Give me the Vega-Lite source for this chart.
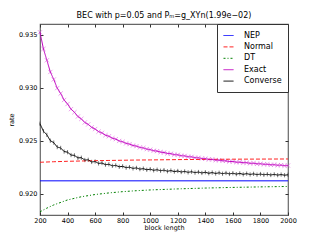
{
  "$schema": "https://vega.github.io/schema/vega-lite/v6.json",
  "width": 248,
  "height": 191,
  "autosize": "none",
  "padding": {"left": 40, "top": 24, "right": 32, "bottom": 25},
  "background": "white",
  "config": {
    "font": "DejaVu Sans",
    "view": {"stroke": "#666", "strokeWidth": 1.2},
    "axis": {
      "domain": false, "grid": false, "tickSize": -3, "tickColor": "#333", "tickWidth": 1,
      "labelFontSize": 6.5, "titleFontSize": 6.5, "titleFontWeight": "normal",
      "labelColor": "black", "titleColor": "black", "labelFlush": false, "labelOverlap": false
    },
    "legend": {
      "orient": "top-right", "offset": 0, "padding": 6, "strokeColor": "#333", "fillColor": "white",
      "symbolType": "stroke", "symbolSize": 100, "symbolStrokeWidth": 1, "labelFontSize": 8,
      "labelOffset": 10, "rowPadding": 1.4, "labelColor": "black", "cornerRadius": 0
    }
  },
  "title": {"text": "BEC with p=0.05 and Pₘ=g_XYn(1.99e−02)", "fontSize": 8, "fontWeight": "normal", "offset": 4, "font": "DejaVu Sans", "color": "black"},
  "data": {"values": [
    {"s":"NEP","n":200,"r":0.92122},{"s":"NEP","n":2000,"r":0.92122},
    {"s":"Normal","n":200,"r":0.92297},{"s":"Normal","n":300,"r":0.92302},{"s":"Normal","n":400,"r":0.92306},{"s":"Normal","n":500,"r":0.92309},{"s":"Normal","n":600,"r":0.92312},{"s":"Normal","n":700,"r":0.92314},{"s":"Normal","n":800,"r":0.92316},{"s":"Normal","n":900,"r":0.92318},{"s":"Normal","n":1000,"r":0.92319},{"s":"Normal","n":1200,"r":0.92322},{"s":"Normal","n":1400,"r":0.92324},{"s":"Normal","n":1600,"r":0.92326},{"s":"Normal","n":1800,"r":0.92327},{"s":"Normal","n":2000,"r":0.92328},
    {"s":"DT","n":200,"r":0.9183},{"s":"DT","n":250,"r":0.91865},{"s":"DT","n":300,"r":0.91895},{"s":"DT","n":400,"r":0.91942},{"s":"DT","n":500,"r":0.91972},{"s":"DT","n":600,"r":0.91993},{"s":"DT","n":700,"r":0.92008},{"s":"DT","n":800,"r":0.9202},{"s":"DT","n":900,"r":0.92029},{"s":"DT","n":1000,"r":0.92036},{"s":"DT","n":1200,"r":0.92046},{"s":"DT","n":1400,"r":0.92054},{"s":"DT","n":1600,"r":0.9206},{"s":"DT","n":1800,"r":0.92065},{"s":"DT","n":2000,"r":0.92069},
    {"s":"Exact","n":200,"r":0.93522},{"s":"Exact","n":225,"r":0.93365},{"s":"Exact","n":250,"r":0.93258},{"s":"Exact","n":275,"r":0.93148},{"s":"Exact","n":300,"r":0.93077},{"s":"Exact","n":325,"r":0.92996},{"s":"Exact","n":350,"r":0.92945},{"s":"Exact","n":375,"r":0.92884},{"s":"Exact","n":400,"r":0.92846},{"s":"Exact","n":425,"r":0.92798},{"s":"Exact","n":450,"r":0.92768},{"s":"Exact","n":475,"r":0.92728},{"s":"Exact","n":500,"r":0.92706},{"s":"Exact","n":525,"r":0.92672},{"s":"Exact","n":550,"r":0.92654},{"s":"Exact","n":575,"r":0.92626},{"s":"Exact","n":600,"r":0.9261},{"s":"Exact","n":625,"r":0.92586},{"s":"Exact","n":650,"r":0.92574},{"s":"Exact","n":675,"r":0.92552},{"s":"Exact","n":700,"r":0.92542},{"s":"Exact","n":725,"r":0.92524},{"s":"Exact","n":750,"r":0.92515},{"s":"Exact","n":775,"r":0.92498},{"s":"Exact","n":800,"r":0.9249},{"s":"Exact","n":825,"r":0.92475},{"s":"Exact","n":850,"r":0.92468},{"s":"Exact","n":875,"r":0.92455},{"s":"Exact","n":900,"r":0.92449},{"s":"Exact","n":925,"r":0.92437},{"s":"Exact","n":950,"r":0.92432},{"s":"Exact","n":975,"r":0.92421},{"s":"Exact","n":1000,"r":0.92416},{"s":"Exact","n":1025,"r":0.92406},{"s":"Exact","n":1050,"r":0.92402},{"s":"Exact","n":1075,"r":0.92393},{"s":"Exact","n":1100,"r":0.92389},{"s":"Exact","n":1125,"r":0.9238},{"s":"Exact","n":1150,"r":0.92378},{"s":"Exact","n":1175,"r":0.92369},{"s":"Exact","n":1200,"r":0.92367},{"s":"Exact","n":1225,"r":0.92359},{"s":"Exact","n":1250,"r":0.92357},{"s":"Exact","n":1275,"r":0.92349},{"s":"Exact","n":1300,"r":0.92348},{"s":"Exact","n":1325,"r":0.9234},{"s":"Exact","n":1350,"r":0.92339},{"s":"Exact","n":1375,"r":0.92332},{"s":"Exact","n":1400,"r":0.92331},{"s":"Exact","n":1425,"r":0.92324},{"s":"Exact","n":1450,"r":0.92324},{"s":"Exact","n":1475,"r":0.92317},{"s":"Exact","n":1500,"r":0.92317},{"s":"Exact","n":1525,"r":0.92311},{"s":"Exact","n":1550,"r":0.9231},{"s":"Exact","n":1575,"r":0.92304},{"s":"Exact","n":1600,"r":0.92304},{"s":"Exact","n":1625,"r":0.92298},{"s":"Exact","n":1650,"r":0.92298},{"s":"Exact","n":1675,"r":0.92293},{"s":"Exact","n":1700,"r":0.92293},{"s":"Exact","n":1725,"r":0.92287},{"s":"Exact","n":1750,"r":0.92288},{"s":"Exact","n":1775,"r":0.92282},{"s":"Exact","n":1800,"r":0.92283},{"s":"Exact","n":1825,"r":0.92278},{"s":"Exact","n":1850,"r":0.92278},{"s":"Exact","n":1875,"r":0.92273},{"s":"Exact","n":1900,"r":0.92274},{"s":"Exact","n":1925,"r":0.92269},{"s":"Exact","n":1950,"r":0.9227},{"s":"Exact","n":1975,"r":0.92265},{"s":"Exact","n":2000,"r":0.92266},
    {"s":"Converse","n":200,"r":0.9266},{"s":"Converse","n":225,"r":0.9259},{"s":"Converse","n":250,"r":0.92555},{"s":"Converse","n":275,"r":0.925},{"s":"Converse","n":300,"r":0.92482},{"s":"Converse","n":325,"r":0.9244},{"s":"Converse","n":350,"r":0.92432},{"s":"Converse","n":375,"r":0.92398},{"s":"Converse","n":400,"r":0.92392},{"s":"Converse","n":425,"r":0.92365},{"s":"Converse","n":450,"r":0.92362},{"s":"Converse","n":475,"r":0.92338},{"s":"Converse","n":500,"r":0.9234},{"s":"Converse","n":525,"r":0.92318},{"s":"Converse","n":550,"r":0.9232},{"s":"Converse","n":575,"r":0.923},{"s":"Converse","n":600,"r":0.92304},{"s":"Converse","n":625,"r":0.92286},{"s":"Converse","n":650,"r":0.9229},{"s":"Converse","n":675,"r":0.92274},{"s":"Converse","n":700,"r":0.92278},{"s":"Converse","n":725,"r":0.92263},{"s":"Converse","n":750,"r":0.92268},{"s":"Converse","n":775,"r":0.92254},{"s":"Converse","n":800,"r":0.92259},{"s":"Converse","n":825,"r":0.92246},{"s":"Converse","n":850,"r":0.92251},{"s":"Converse","n":875,"r":0.92239},{"s":"Converse","n":900,"r":0.92244},{"s":"Converse","n":925,"r":0.92232},{"s":"Converse","n":950,"r":0.92237},{"s":"Converse","n":975,"r":0.92226},{"s":"Converse","n":1000,"r":0.92232},{"s":"Converse","n":1025,"r":0.92221},{"s":"Converse","n":1050,"r":0.92227},{"s":"Converse","n":1075,"r":0.92217},{"s":"Converse","n":1100,"r":0.92223},{"s":"Converse","n":1125,"r":0.92212},{"s":"Converse","n":1150,"r":0.92219},{"s":"Converse","n":1175,"r":0.92209},{"s":"Converse","n":1200,"r":0.92215},{"s":"Converse","n":1225,"r":0.92205},{"s":"Converse","n":1250,"r":0.92211},{"s":"Converse","n":1275,"r":0.92202},{"s":"Converse","n":1300,"r":0.92208},{"s":"Converse","n":1325,"r":0.92199},{"s":"Converse","n":1350,"r":0.92205},{"s":"Converse","n":1375,"r":0.92196},{"s":"Converse","n":1400,"r":0.92203},{"s":"Converse","n":1425,"r":0.92193},{"s":"Converse","n":1450,"r":0.922},{"s":"Converse","n":1475,"r":0.92191},{"s":"Converse","n":1500,"r":0.92198},{"s":"Converse","n":1525,"r":0.92189},{"s":"Converse","n":1550,"r":0.92196},{"s":"Converse","n":1575,"r":0.92187},{"s":"Converse","n":1600,"r":0.92194},{"s":"Converse","n":1625,"r":0.92185},{"s":"Converse","n":1650,"r":0.92192},{"s":"Converse","n":1675,"r":0.92183},{"s":"Converse","n":1700,"r":0.9219},{"s":"Converse","n":1725,"r":0.92182},{"s":"Converse","n":1750,"r":0.92188},{"s":"Converse","n":1775,"r":0.9218},{"s":"Converse","n":1800,"r":0.92186},{"s":"Converse","n":1825,"r":0.92179},{"s":"Converse","n":1850,"r":0.92184},{"s":"Converse","n":1875,"r":0.92177},{"s":"Converse","n":1900,"r":0.92183},{"s":"Converse","n":1925,"r":0.92176},{"s":"Converse","n":1950,"r":0.92181},{"s":"Converse","n":1975,"r":0.92175},{"s":"Converse","n":2000,"r":0.92179}
  ]},
  "layer": [
    {
      "transform": [{"filter": "datum.s === 'Exact'"}],
      "mark": {"type": "point", "shape": "M-1,-1L1,1M-1,1L1,-1", "size": 18, "strokeWidth": 1, "color": "#dd55dd", "opacity": 0.55, "filled": false},
      "encoding": {
        "x": {"field": "n", "type": "quantitative", "axis": null, "scale": {"domain": [200, 2000], "nice": false}},
        "y": {"field": "r", "type": "quantitative", "axis": null, "scale": {"domain": [0.918, 0.936], "nice": false, "zero": false}}
      }
    },
    {
      "transform": [{"filter": "datum.s === 'Converse'"}],
      "mark": {"type": "point", "shape": "M0,-1L0,1", "size": 18, "strokeWidth": 1, "color": "#444", "opacity": 0.7, "filled": false},
      "encoding": {
        "x": {"field": "n", "type": "quantitative", "axis": null},
        "y": {"field": "r", "type": "quantitative", "axis": null}
      }
    },
    {
      "mark": {"type": "line", "strokeWidth": 1},
      "encoding": {
        "x": {"field": "n", "type": "quantitative", "axis": {"title": "block length", "values": [200,400,600,800,1000,1200,1400,1600,1800,2000], "format": "d", "labelPadding": 5, "titlePadding": 1}},
        "y": {"field": "r", "type": "quantitative", "axis": {"title": "rate", "values": [0.92, 0.925, 0.93, 0.935], "format": ".3f", "labelPadding": 6, "titlePadding": 4}},
        "color": {"field": "s", "type": "nominal",
          "scale": {"domain": ["NEP", "Normal", "DT", "Exact", "Converse"], "range": ["#0000ff", "#ff2222", "#008000", "#bf00bf", "#000000"]},
          "legend": {"title": null}},
        "strokeDash": {"field": "s", "type": "nominal",
          "scale": {"domain": ["NEP", "Normal", "DT", "Exact", "Converse"], "range": [[1, 0], [4, 2], [2, 2, 1, 2], [1, 0], [1, 0]]},
          "legend": {"title": null}}
      }
    },
    {
      "transform": [{"filter": "datum.s === 'NEP'"}],
      "mark": {"type": "line", "opacity": 0},
      "encoding": {
        "x": {"field": "n", "type": "quantitative", "axis": {"orient": "top", "title": null, "labels": false, "values": [200,400,600,800,1000,1200,1400,1600,1800,2000]}},
        "y": {"field": "r", "type": "quantitative", "axis": {"orient": "right", "title": null, "labels": false, "values": [0.92, 0.925, 0.93, 0.935]}}
      }
    }
  ],
  "resolve": {"axis": {"x": "independent", "y": "independent"}}
}
